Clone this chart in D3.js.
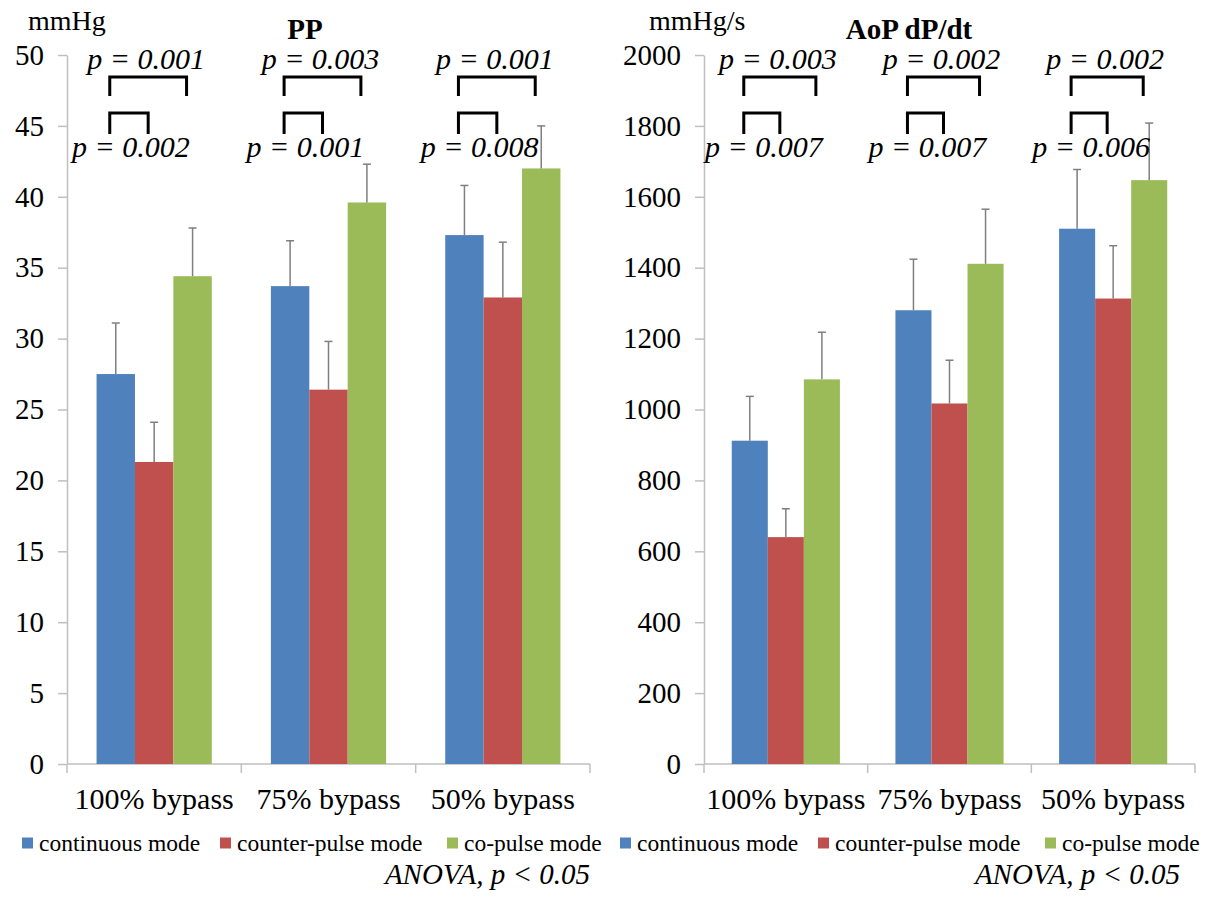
<!DOCTYPE html>
<html>
<head>
<meta charset="utf-8">
<script src="https://cdn.jsdelivr.net/npm/d3@7"></script>
<style>
  body { margin: 0; background: #fff; }
  svg text { font-family: "Liberation Serif", "Times New Roman", serif !important; }
</style>
</head>
<body>
<div id="chart"></div>
<script>
// categories and series
var categories = ["100% bypass", "75% bypass", "50% bypass"];
var modes = ["continuous mode", "counter-pulse mode", "co-pulse mode"];
var colors = ["#4F81BD", "#C0504D", "#9BBB59"];

// PP (mmHg), rows = bypass level, cols = mode
var ppMean = [[27.5, 21.3, 34.4], [33.7, 26.4, 39.6], [37.3, 32.9, 42.0]];
var ppSD   = [[3.6, 2.8, 3.4], [3.2, 3.4, 2.7], [3.5, 3.9, 3.0]];
var ppTicks = [0, 5, 10, 15, 20, 25, 30, 35, 40, 45, 50];
var ppPTop = ["p = 0.001", "p = 0.003", "p = 0.001"];   // continuous vs co-pulse
var ppPLow = ["p = 0.002", "p = 0.001", "p = 0.008"];   // continuous vs counter-pulse

// AoP dP/dt (mmHg/s)
var dpMean = [[912, 640, 1085], [1280, 1017, 1411], [1510, 1313, 1647]];
var dpSD   = [[125, 80, 133], [144, 122, 154], [167, 149, 161]];
var dpTicks = [0, 200, 400, 600, 800, 1000, 1200, 1400, 1600, 1800, 2000];
var dpPTop = ["p = 0.003", "p = 0.002", "p = 0.002"];
var dpPLow = ["p = 0.007", "p = 0.007", "p = 0.006"];

var width = 1210, height = 897;
var svg = d3.select("#chart").append("svg")
    .attr("width", width)
    .attr("height", height)
    .attr("font-family", "Liberation Serif, Times New Roman, serif");

var axisColor = "#bfbfbf";

function panel(opt) {
  var g = svg.append("g");
  var top = 55, bottom = 764;

  var x = d3.scaleBand().domain(categories).range([opt.left, opt.right]);
  var x1 = d3.scaleBand().domain(d3.range(modes.length))
      .range([0, x.bandwidth()]).paddingInner(0).paddingOuter(0.77);
  var y = d3.scaleLinear().domain([0, d3.max(opt.ticks)]).range([bottom, top]);

  // y axis
  var ya = g.append("g")
      .attr("transform", "translate(" + opt.left + ",0)")
      .call(d3.axisLeft(y).tickValues(opt.ticks).tickFormat(d3.format("d"))
        .tickSize(9).tickSizeOuter(0).tickPadding(14));
  ya.attr("font-family", null);
  ya.select(".domain").attr("stroke", axisColor).attr("stroke-width", 1.5);
  ya.selectAll(".tick line").attr("stroke", axisColor).attr("stroke-width", 1.5);
  ya.selectAll(".tick text").attr("fill", "#000").attr("font-size", 29);

  // x axis line + category boundary ticks
  g.append("line")
      .attr("x1", opt.left).attr("x2", opt.right)
      .attr("y1", y(0)).attr("y2", y(0))
      .attr("stroke", axisColor).attr("stroke-width", 1.5);
  var edges = categories.map(function(c) { return x(c); }).concat([opt.right]);
  g.selectAll(".xtick").data(edges).enter().append("line")
      .attr("x1", function(d) { return d; }).attr("x2", function(d) { return d; })
      .attr("y1", y(0)).attr("y2", y(0) + 9)
      .attr("stroke", axisColor).attr("stroke-width", 1.5);
  g.selectAll(".xlab").data(categories).enter().append("text")
      .attr("x", function(d) { return x(d) + x.bandwidth() / 2; })
      .attr("y", 809)
      .attr("text-anchor", "middle")
      .attr("font-size", 30)
      .text(function(d) { return d; });

  // bars
  var grp = g.selectAll(".grp").data(categories).enter().append("g")
      .attr("transform", function(d) { return "translate(" + x(d) + ",0)"; });

  grp.selectAll("rect")
      .data(function(d, i) { return opt.mean[i].map(function(v, j) { return {v: v, j: j}; }); })
      .enter().append("rect")
      .attr("x", function(d) { return x1(d.j); })
      .attr("width", x1.bandwidth())
      .attr("y", function(d) { return y(d.v); })
      .attr("height", function(d) { return y(0) - y(d.v); })
      .attr("fill", function(d) { return colors[d.j]; });

  // error bars (upper only)
  var eb = grp.selectAll(".err")
      .data(function(d, i) { return opt.mean[i].map(function(v, j) { return {v: v, e: opt.sd[i][j], j: j}; }); })
      .enter().append("g");
  eb.append("line")
      .attr("x1", function(d) { return x1(d.j) + x1.bandwidth() / 2; })
      .attr("x2", function(d) { return x1(d.j) + x1.bandwidth() / 2; })
      .attr("y1", function(d) { return y(d.v); })
      .attr("y2", function(d) { return y(d.v + d.e); })
      .attr("stroke", "#7f7f7f").attr("stroke-width", 1.5);
  eb.append("line")
      .attr("x1", function(d) { return x1(d.j) + x1.bandwidth() / 2 - 4; })
      .attr("x2", function(d) { return x1(d.j) + x1.bandwidth() / 2 + 4; })
      .attr("y1", function(d) { return y(d.v + d.e); })
      .attr("y2", function(d) { return y(d.v + d.e); })
      .attr("stroke", "#7f7f7f").attr("stroke-width", 1.5);

  // significance brackets
  var cx = function(i, j) { return x(categories[i]) + x1(j) + x1.bandwidth() / 2 - 6; };
  categories.forEach(function(c, i) {
    var a = cx(i, 0), b = cx(i, 1), c2 = cx(i, 2);
    g.append("path")
        .attr("d", "M" + a + "," + (top + 41) + "V" + (top + 22) + "H" + c2 + "V" + (top + 41))
        .attr("fill", "none").attr("stroke", "#000").attr("stroke-width", 3);
    g.append("path")
        .attr("d", "M" + a + "," + (top + 79) + "V" + (top + 58) + "H" + b + "V" + (top + 79))
        .attr("fill", "none").attr("stroke", "#000").attr("stroke-width", 3);
    g.append("text")
        .attr("x", (a + c2) / 2 - 2).attr("y", top + 14)
        .attr("text-anchor", "middle").attr("font-size", 30).attr("font-style", "italic")
        .text(opt.pTop[i]);
    g.append("text")
        .attr("x", (a + b) / 2 + 2).attr("y", top + 102)
        .attr("text-anchor", "middle").attr("font-size", 30).attr("font-style", "italic")
        .text(opt.pLow[i]);
  });

  // unit + title
  g.append("text").attr("x", opt.unitX).attr("y", 30)
      .attr("font-size", 28).text(opt.unit);
  g.append("text").attr("x", opt.titleX).attr("y", 39)
      .attr("text-anchor", "middle").attr("font-size", 29).attr("font-weight", "bold")
      .text(opt.title);

  // legend
  var lg = g.selectAll(".leg").data(modes).enter().append("g")
      .attr("transform", function(d, i) { return "translate(" + opt.legX[i] + ",843)"; });
  lg.append("rect").attr("x", 0).attr("y", -5.5).attr("width", 11).attr("height", 11)
      .attr("fill", function(d, i) { return colors[i]; });
  lg.append("text").attr("x", 17).attr("y", 8).attr("font-size", 23.5)
      .text(function(d) { return d; });

  g.append("text").attr("x", opt.anovaX).attr("y", 884)
      .attr("text-anchor", "end").attr("font-size", 29).attr("font-style", "italic")
      .text("ANOVA, p < 0.05");
}

panel({left: 67, right: 590, mean: ppMean, sd: ppSD, ticks: ppTicks,
       pTop: ppPTop, pLow: ppPLow, unit: "mmHg", unitX: 28, title: "PP", titleX: 305,
       legX: [22, 220, 447], anovaX: 590});
panel({left: 704, right: 1195, mean: dpMean, sd: dpSD, ticks: dpTicks,
       pTop: dpPTop, pLow: dpPLow, unit: "mmHg/s", unitX: 649, title: "AoP dP/dt", titleX: 909,
       legX: [620, 818, 1045], anovaX: 1180});
</script>
</body>
</html>
